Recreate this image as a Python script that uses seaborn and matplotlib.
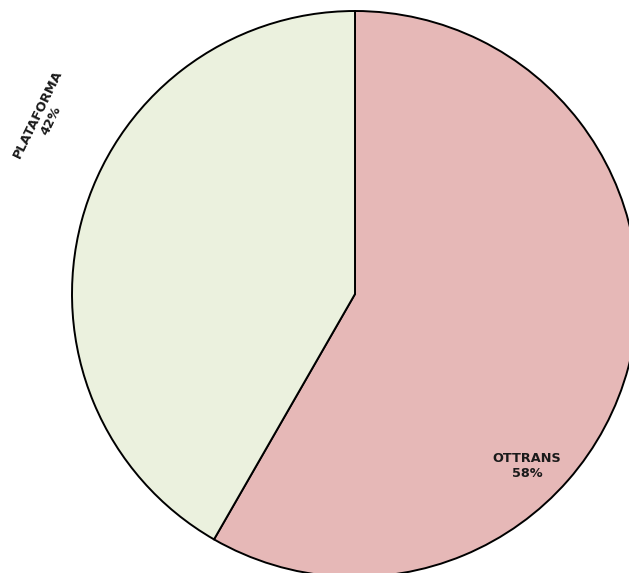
import matplotlib
matplotlib.use("Agg")
import matplotlib.pyplot as plt
import seaborn as sns
import numpy as np

categories = ["OTTRANS", "PLATAFORMA"]
values = [58.3, 41.7]
colors = ["#E6B8B7", "#EBF1DE"]

sns.set_theme(style="white")
plt.rcParams['font.family'] = ['DejaVu Sans']

W, H = 629, 573
fig = plt.figure(figsize=(W / 100, H / 100), dpi=100)
ax = fig.add_axes([0, 0, 1, 1])
cx, cy, r = 355, H - 294, 283
wedges, _ = ax.pie(values, colors=sns.color_palette(colors), startangle=90, counterclock=False,
                   center=(cx, cy), radius=r,
                   wedgeprops=dict(edgecolor="black", linewidth=1.4))
ax.set_xlim(0, W)
ax.set_ylim(0, H)
ax.set_aspect("equal")
ax.axis("off")

# label positions (relative to pie center, in radius units)
label_pos = [(0.608, -0.608, 0), (-1.097, 0.625, 64)]
for cat, v, (fx, fy, rot) in zip(categories, values, label_pos):
    ax.text(cx + fx * r, cy + fy * r, f"{cat}\n{round(v)}%", ha="center", va="center",
            fontsize=9.3, fontweight="bold", rotation=rot, rotation_mode="anchor",
            linespacing=1.15, color="#1a1a1a")

fig.savefig("out.png", dpi=100)
